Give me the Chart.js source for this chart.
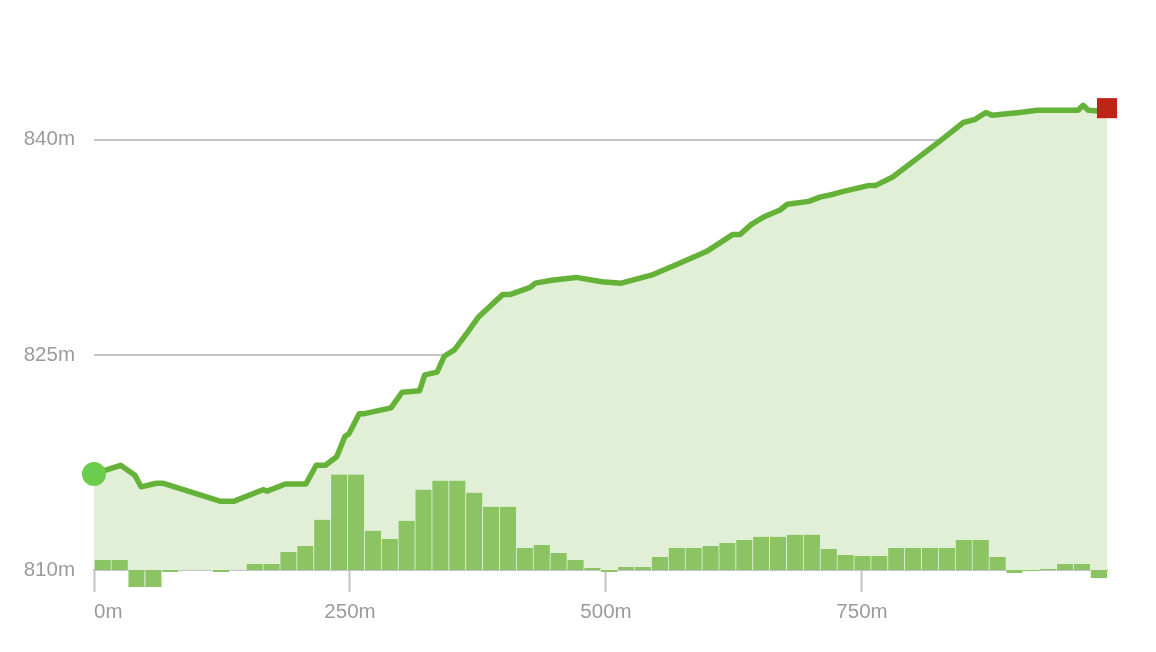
<!DOCTYPE html>
<html>
<head>
<meta charset="utf-8">
<title>Elevation profile</title>
<script src="https://cdn.jsdelivr.net/npm/chart.js@4.4.0/dist/chart.umd.min.js"></script>
<style>
  html, body { margin: 0; padding: 0; background: #fff; }
  #wrap { width: 1156px; height: 652px; position: relative; }
</style>
</head>
<body>
<div id="wrap"><canvas id="profile"></canvas></div>
<script>
// route length (m) and elevation samples
const TOTAL_DIST = 989.3;
const distances = [0, 26, 40, 46, 61, 67, 123, 137, 165, 169, 187, 207, 217, 226, 237, 245, 249, 259,
  264, 290, 301, 318, 323, 335, 342, 352, 364, 375, 399, 406, 426, 431, 447, 471, 496, 515,
  546, 569, 598, 624, 631, 642, 655, 670, 677, 698, 709, 722, 732, 756, 763, 780, 803, 826,
  849, 860, 871, 877, 904, 921, 961, 966, 971, 982, 989.3];
const elevations = [816.7, 817.3, 816.6, 815.8, 816.05, 816.05, 814.8, 814.8, 815.6, 815.5, 816.0, 816.0,
  817.3, 817.3, 817.9, 819.3, 819.5, 820.9, 820.9, 821.3, 822.4, 822.5, 823.6, 823.8,
  824.9, 825.35, 826.5, 827.6, 829.2, 829.2, 829.7, 830.0, 830.2, 830.4, 830.1, 830.0,
  830.6, 831.3, 832.2, 833.4, 833.4, 834.1, 834.65, 835.1, 835.5, 835.7, 836.0, 836.2,
  836.4, 836.8, 836.8, 837.4, 838.65, 839.9, 841.2, 841.4, 841.9, 841.7, 841.9, 842.05,
  842.05, 842.4, 842.05, 842.0, 842.2];

// grade (%) per equal segment of the route
const grades = [1.0, 1.0, -1.7, -1.7, -0.2, 0, 0, -0.2, 0, 0.6,
  0.6, 1.8, 2.4, 5.0, 9.5, 9.5, 3.9, 3.1, 4.9, 8.0,
  8.9, 8.9, 7.7, 6.3, 6.3, 2.2, 2.5, 1.7, 1.0, 0.2,
  -0.2, 0.3, 0.3, 1.3, 2.2, 2.2, 2.4, 2.7, 3.0, 3.3,
  3.3, 3.5, 3.5, 2.1, 1.5, 1.4, 1.4, 2.2, 2.2, 2.2,
  2.2, 3.0, 3.0, 1.3, -0.3, -0.1, 0.1, 0.6, 0.6, -0.8];

const yTicks = [810, 825, 840];
const xTicks = [0, 250, 500, 750];

const segLen = TOTAL_DIST / grades.length;
const lastIdx = distances.length - 1;

const axisGrey = '#c4c4c4';
const labelFont = { family: '"Liberation Sans", Arial, Helvetica, sans-serif', size: 20.5 };

const ctx = document.getElementById('profile').getContext('2d');

new Chart(ctx, {
  data: {
    datasets: [{
      type: 'line',
      label: 'Elevation',
      data: distances.map((d, i) => ({ x: d, y: elevations[i] })),
      xAxisID: 'x',
      yAxisID: 'y',
      borderColor: '#65b239',
      borderWidth: 5.5,
      borderJoinStyle: 'round',
      borderCapStyle: 'round',
      backgroundColor: '#e0efd6',
      fill: 'start',
      tension: 0,
      clip: false,
      order: 0,
      pointRadius: c => c.dataIndex === 0 ? 12 : (c.dataIndex === lastIdx ? 14.2 : 0),
      pointStyle: c => c.dataIndex === lastIdx ? 'rect' : 'circle',
      pointBackgroundColor: c => c.dataIndex === lastIdx ? '#bf2419' : '#6ccc4c',
      pointBorderWidth: 0
    }, {
      type: 'bar',
      label: 'Grade',
      data: grades.map((g, i) => ({ x: (i + 0.5) * segLen, y: g })),
      xAxisID: 'x',
      yAxisID: 'y1',
      backgroundColor: '#8cc464',
      borderColor: 'rgba(255,255,255,0.3)',
      borderWidth: { left: 1, right: 0, top: 0, bottom: 0 },
      barPercentage: 1,
      categoryPercentage: 1,
      clip: false,
      order: 1
    }]
  },
  options: {
    responsive: true,
    maintainAspectRatio: false,
    animation: false,
    layout: { padding: { top: 68, right: 49, left: 0, bottom: 0 } },
    plugins: {
      legend: { display: false },
      tooltip: { enabled: false },
      filler: { drawTime: 'beforeDatasetsDraw' }
    },
    scales: {
      x: {
        type: 'linear',
        min: 0,
        max: TOTAL_DIST,
        offset: false,
        z: 1,
        afterBuildTicks: s => { s.ticks = xTicks.concat([TOTAL_DIST]).map(v => ({ value: v })); },
        afterFit: s => { s.height = 82; },
        border: { display: true, color: axisGrey, width: 2 },
        grid: {
          offset: false,
          drawOnChartArea: false,
          drawTicks: true,
          tickLength: 22,
          tickWidth: 2,
          tickColor: c => (c.tick && c.tick.value > 750) ? 'rgba(0,0,0,0)' : axisGrey
        },
        ticks: {
          align: 'inner',
          padding: 8,
          color: '#9b9b9b',
          font: labelFont,
          maxRotation: 0,
          callback: v => xTicks.includes(v) ? v + 'm' : ''
        }
      },
      y: {
        type: 'linear',
        min: 810,
        max: 845,
        afterBuildTicks: s => { s.ticks = yTicks.map(v => ({ value: v })); },
        afterFit: s => { s.width = 94; },
        border: { display: false },
        grid: { color: axisGrey, lineWidth: 2, drawTicks: false },
        ticks: {
          padding: 19,
          color: '#9b9b9b',
          font: labelFont,
          callback: v => v + 'm'
        }
      },
      y1: {
        type: 'linear',
        display: false,
        min: 0,
        max: 50
      }
    }
  }
});
</script>
</body>
</html>
